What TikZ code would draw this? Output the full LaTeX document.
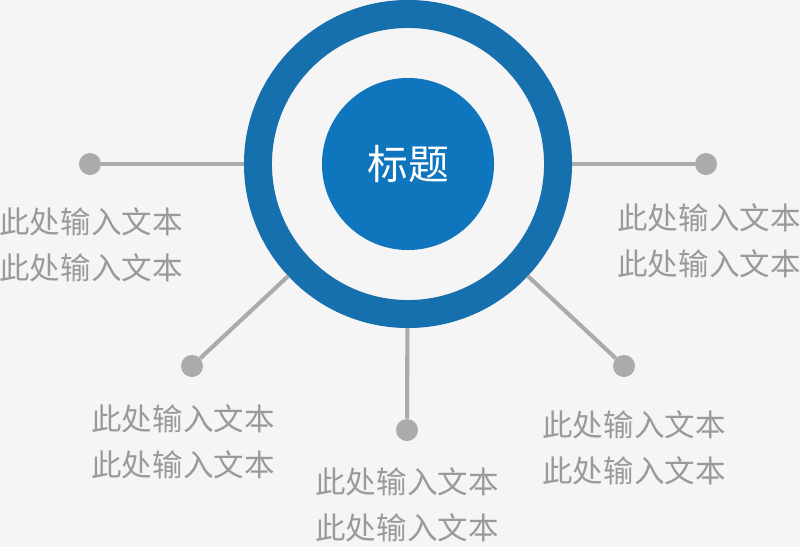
\documentclass[tikz,border=0pt]{standalone}
\usepackage{fontspec}
\setmainfont{Noto Sans CJK SC}
\definecolor{ringblue}{HTML}{1670AD}
\definecolor{hubblue}{HTML}{0F75BC}
\definecolor{linkgray}{HTML}{ABABAB}
\definecolor{textgray}{HTML}{9A9A9A}
\definecolor{paper}{HTML}{F5F5F5}
\begin{document}
\begin{tikzpicture}[x=0.025cm,y=-0.025cm,
    dot/.style={circle,fill=linkgray,inner sep=0pt,minimum size=0.55cm},
    link/.style={draw=linkgray,line width=2.9pt},
    note/.style={align=center,text=textgray,font=\fontsize{21.7}{32.7}\selectfont,inner sep=0pt}]
  \useasboundingbox (0,0) rectangle (800,547);
  \fill[paper] (0,0) rectangle (800,547);

  % centre
  \node[circle,draw=ringblue,line width=19.9pt,inner sep=0pt,minimum size=7.5cm] (ring) at (408,164) {};
  \node[circle,fill=hubblue,inner sep=0pt,minimum size=4.3cm,text=white,
        font=\fontsize{29}{34}\selectfont] (hub) at (408,164) {标题};

  % dots
  \node[dot] (d1) at (90,164) {};
  \node[dot] (d2) at (706,164) {};
  \node[dot] (d3) at (192,366) {};
  \node[dot] (d4) at (407,430) {};
  \node[dot] (d5) at (624,366) {};

  \foreach \d in {d1,d2,d3,d4,d5}
    \draw[link] (\d) -- (ring);

  % texts
  \node[note] (t1) at (91,245) {此处输入文本\\此处输入文本};
  \node[note] (t2) at (709,241) {此处输入文本\\此处输入文本};
  \node[note] (t3) at (183,442) {此处输入文本\\此处输入文本};
  \node[note] (t4) at (407,505) {此处输入文本\\此处输入文本};
  \node[note] (t5) at (634,448) {此处输入文本\\此处输入文本};
\end{tikzpicture}
\end{document}
